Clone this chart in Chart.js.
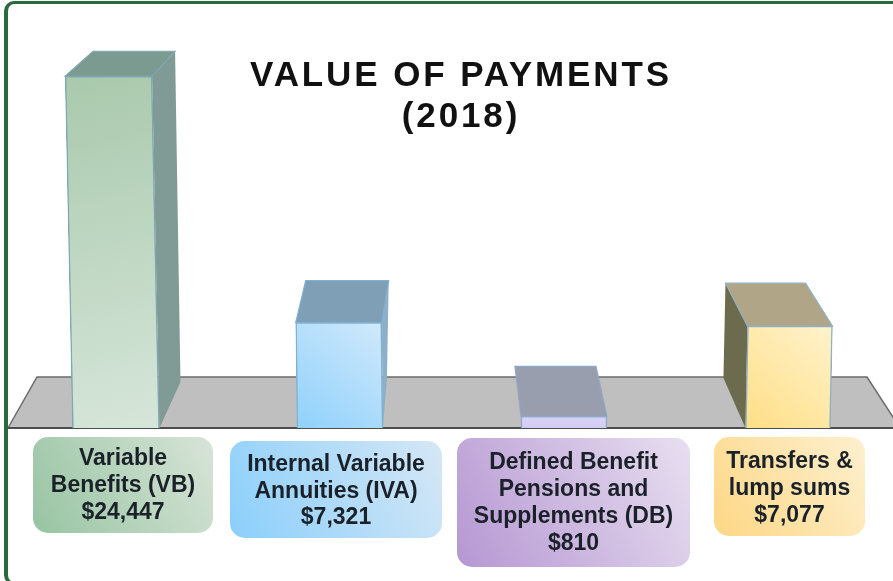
<!DOCTYPE html>
<html>
<head>
<meta charset="utf-8">
<title>Value of payments</title>
<script src="https://cdn.jsdelivr.net/npm/chart.js@4"></script>
<style>
    html, body { margin: 0; padding: 0; background: #fff; overflow: hidden; }
    #wrap { position: relative; width: 893px; height: 581px; overflow: hidden; }
    #frame { position: absolute; left: 4px; top: 1px; width: 900px; height: 578px; border: 3px solid #2a6a3c; border-left-width: 4px; border-radius: 10px; pointer-events: none; }
    #chart { position: absolute; left: 0; top: 0; }
</style>
</head>
<body>
<div id="wrap">
    <canvas id="chart" width="893" height="581"></canvas>
    <div id="frame"></div>
</div>
<script>
const titleLines = ['VALUE OF PAYMENTS', '(2018)'];
const categories = [
    ['Variable', 'Benefits (VB)'],
    ['Internal Variable', 'Annuities (IVA)'],
    ['Defined Benefit', 'Pensions and', 'Supplements (DB)'],
    ['Transfers &', 'lump sums']
];
const payments = [24447, 7321, 810, 7077];

// внешний вид столбиков (смещения граней считаются от углов передней грани)
const barStyles = [
    { width: 87, shear: 0.021, front: ['#a9c9ac', '#d6e6da'], slant: 1, top: '#7b9b90', side: '#809a96', edge: '#7fa8b4',
      sideAt: 'right', backL: [28, -25], backR: [23, -25], floor: [21, -46] },
    { width: 86, shear: 0.012, front: ['#d0e9fb', '#90d1fb'], slant: -1, top: '#7f9fb6', side: '#8db0c8', edge: '#82b0d0',
      sideAt: 'right', backL: [10, -42], backR: [7, -42], floor: [4, -50] },
    { width: 86, shear: 0, front: ['#d9d3f6', '#d2caf3'], slant: 0, top: '#999eaf', side: null, edge: '#8fa9c6',
      sideAt: 'left', backL: [-6, -50], backR: [-11, -50], floor: [0, 0] },
    { width: 85, shear: -0.02, front: ['#fff3cc', '#ffde86'], slant: -1, top: '#b0a687', side: '#6d6b4d', edge: '#8fb0c0',
      sideAt: 'left', backL: [-22, -43], backR: [-27, -43], floor: [-22, -50] }
];

const boxStyles = [
    { x0: 33, x1: 213, y0: 437, y1: 533, colors: ['#97c4a2', '#d8e4d8'], lineY: [459, 486, 513] },
    { x0: 230, x1: 442, y0: 441, y1: 538, colors: ['#8bcffb', '#d6e7f5'], lineY: [465, 492, 518] },
    { x0: 457, x1: 690, y0: 438, y1: 567, colors: ['#b597d2', '#e8dff0'], lineY: [463, 490, 517, 544] },
    { x0: 714, x1: 865, y0: 437, y1: 536, colors: ['#fdd785', '#fdf0cf'], lineY: [462, 489, 516] }
];

function polygon(ctx, points, fill, stroke) {
    ctx.beginPath();
    points.forEach(([x, y], i) => i ? ctx.lineTo(x, y) : ctx.moveTo(x, y));
    ctx.closePath();
    ctx.fillStyle = fill;
    ctx.fill();
    if (stroke) {
        ctx.strokeStyle = stroke;
        ctx.lineWidth = 1.2;
        ctx.stroke();
    }
}

function frontGradient(context, i) {
    const { ctx, chartArea, scales } = context.chart;
    const style = barStyles[i];
    if (!chartArea) return style.front[0];
    const base = scales.y.getPixelForValue(0);
    const top = scales.y.getPixelForValue(payments[i]);
    const center = scales.x.getPixelForValue(i);
    const dx = style.slant * style.width / 2;
    const g = ctx.createLinearGradient(center - dx, top, center + dx, base);
    g.addColorStop(0, style.front[0]);
    g.addColorStop(1, style.front[1]);
    return g;
}

const scenePlugin = {
    id: 'scene',
    beforeDatasetsDraw(chart) {
        const { ctx, chartArea, scales } = chart;
        const base = scales.y.getPixelForValue(0);
        const back = base - 51;

        // плоскость под столбиками
        ctx.save();
        polygon(ctx, [[chartArea.left + 29, back], [chartArea.right - 26, back],
            [chartArea.right + 7, base], [chartArea.left, base]], '#bfbfbf');
        ctx.strokeStyle = '#6b6b6b';
        ctx.lineWidth = 1.5;
        ctx.beginPath();
        ctx.moveTo(chartArea.left, base);
        ctx.lineTo(chartArea.left + 29, back);
        ctx.lineTo(chartArea.right - 26, back);
        ctx.lineTo(chartArea.right + 7, base);
        ctx.stroke();
        ctx.strokeStyle = '#4d4d4d';
        ctx.lineWidth = 2;
        ctx.beginPath();
        ctx.moveTo(chartArea.left, base);
        ctx.lineTo(chartArea.right, base);
        ctx.stroke();
        ctx.restore();
    },
    beforeDatasetDraw(chart, args) {
        const { ctx } = chart;
        const style = barStyles[args.index];
        const bar = args.meta.data[args.index];
        const base = bar.base;
        const lift = style.shear * (bar.y - base);
        const tl = [bar.x - style.width / 2 + lift, bar.y];
        const tr = [bar.x + style.width / 2 + lift, bar.y];
        const bl = [bar.x - style.width / 2, base];
        const br = [bar.x + style.width / 2, base];
        const backL = [tl[0] + style.backL[0], tl[1] + style.backL[1]];
        const backR = [tr[0] + style.backR[0], tr[1] + style.backR[1]];

        ctx.save();
        if (style.side) {
            if (style.sideAt === 'right') {
                polygon(ctx, [tr, backR, [br[0] + style.floor[0], base + style.floor[1]], br], style.side);
            } else {
                polygon(ctx, [tl, backL, [bl[0] + style.floor[0], base + style.floor[1]], bl], style.side);
            }
        }
        polygon(ctx, [tl, backL, backR, tr], style.top, style.edge);
        ctx.restore();

        // передняя грань немного скошена, как на картинке
        ctx.save();
        ctx.transform(1, 0, style.shear, 1, -style.shear * base, 0);
    },
    afterDatasetDraw(chart) {
        chart.ctx.restore();
    },
    afterDraw(chart) {
        const { ctx } = chart;
        ctx.save();
        ctx.textAlign = 'center';
        ctx.textBaseline = 'middle';

        // заголовок
        ctx.fillStyle = '#111';
        ctx.font = 'bold 35px "Liberation Sans"';
        ctx.letterSpacing = '2.9px';
        titleLines.forEach((line, i) => ctx.fillText(line, 461, 76 + i * 41));
        ctx.letterSpacing = '0px';

        // подписи в скруглённых плашках
        boxStyles.forEach((box, i) => {
            const g = ctx.createLinearGradient(box.x0, box.y1, box.x1, box.y0);
            g.addColorStop(0, box.colors[0]);
            g.addColorStop(1, box.colors[1]);
            ctx.beginPath();
            ctx.roundRect(box.x0, box.y0, box.x1 - box.x0, box.y1 - box.y0, 15);
            ctx.fillStyle = g;
            ctx.fill();

            const lines = [...categories[i], '$' + payments[i].toLocaleString('en-US')];
            ctx.fillStyle = '#1a2129';
            ctx.font = 'bold 23px "Liberation Sans"';
            lines.forEach((line, j) => ctx.fillText(line, (box.x0 + box.x1) / 2, box.lineY[j]));
        });
        ctx.restore();
    }
};

new Chart(document.getElementById('chart').getContext('2d'), {
    type: 'bar',
    data: {
        datasets: payments.map((value, i) => ({
            label: categories[i].join(' '),
            data: payments.map((v, j) => ({ x: j, y: j === i ? v : null })),
            barThickness: barStyles[i].width,
            backgroundColor: context => frontGradient(context, i),
            borderColor: barStyles[i].edge,
            borderWidth: 1.5,
            grouped: false
        }))
    },
    options: {
        responsive: false,
        animation: false,
        clip: false,
        layout: { padding: { left: 8, right: 0, top: 10, bottom: 153 } },
        plugins: { legend: { display: false }, tooltip: { enabled: false } },
        scales: {
            x: { type: 'linear', display: false, offset: false, min: -0.482, max: 3.469 },
            y: { display: false, min: 0, max: 29050 }
        }
    },
    plugins: [scenePlugin]
});
</script>
</body>
</html>
